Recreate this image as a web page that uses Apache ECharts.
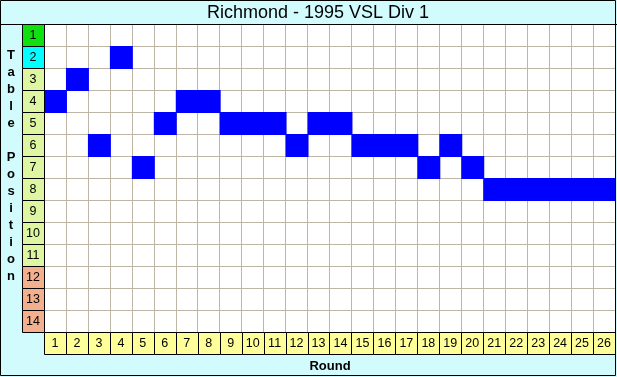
<!DOCTYPE html>
<html><head><meta charset="utf-8">
<script src="https://cdn.jsdelivr.net/npm/echarts@6/dist/echarts.min.js"></script>
<style>html,body{margin:0;padding:0;background:#d2fbfd}#c{width:617px;height:377px}</style>
</head><body><div id="c"></div>
<script>
const titleText = 'Richmond - 1995 VSL Div 1';
const rounds = ['1','2','3','4','5','6','7','8','9','10','11','12','13','14','15','16','17','18','19','20','21','22','23','24','25','26'];
const tablePositions = ['1','2','3','4','5','6','7','8','9','10','11','12','13','14'];
const positionByRound = [4,3,6,2,7,5,4,4,5,5,5,6,5,5,6,6,6,7,6,7,8,8,8,8,8,8];

function zoneColor(p){
  if (p === 1) return '#10e010';
  if (p === 2) return '#00ffff';
  if (p <= 11) return '#def6a2';
  return '#f2b08e';
}

const chart = echarts.init(document.getElementById('c'), null, {renderer:'canvas'});
const PL = 44, PT = 24, PW = 571, PH = 308;

function cellRender(fillFn, withText){
  return function(params, api){
    const x = api.value(0), y = api.value(1);
    const pt = api.coord([x, y]);
    const s = api.size([1, 1]);
    const children = [{
      type:'rect',
      shape:{x: Math.round(pt[0]-s[0]/2)+0.5, y: Math.round(pt[1]-s[1]/2)+0.5, width: Math.round(s[0]), height: Math.round(s[1])},
      style:{fill: fillFn(params.dataIndex), stroke:'#000', lineWidth:1}
    }];
    if (withText) children.push({
      type:'text',
      style:{text: withText(params.dataIndex), x: pt[0], y: pt[1]+1, align:'center', verticalAlign:'middle', font:'12.5px Arial', fill:'#000'}
    });
    return {type:'group', children};
  };
}

chart.setOption({
  animation:false,
  backgroundColor:'#d2fbfd',
  graphic:[
    {type:'rect', shape:{x:0.5,y:0.5,width:615,height:375}, style:{fill:'none', stroke:'#000', lineWidth:1}, z:100},
    {type:'line', shape:{x1:0,y1:24.5,x2:617,y2:24.5}, style:{stroke:'#000', lineWidth:1}, z:100},
    {type:'text', style:{text:titleText, x:318, y:13, align:'center', verticalAlign:'middle', font:'18px Arial', fill:'#000'}},
    {type:'text', style:{text:['T','a','b','l','e',' ','P','o','s','i','t','i','o','n'].join('\n'), x:11, y:166, align:'center', verticalAlign:'middle', font:'bold 13px Arial', lineHeight:17, fill:'#000'}},
    {type:'text', style:{text:'Round', x:330, y:366, align:'center', verticalAlign:'middle', font:'bold 13px Arial', fill:'#000'}}
  ],
  grid:[
    {left:PL, top:PT, width:PW, height:PH, backgroundColor:'#fff', show:true, borderWidth:0},
    {left:22, top:PT, width:22, height:PH},
    {left:PL, top:PT+PH, width:PW, height:22}
  ],
  xAxis:[
    {gridIndex:0, type:'category', data:rounds, axisLine:{show:false}, axisTick:{show:false}, axisLabel:{show:false},
     splitLine:{show:true, interval:0, lineStyle:{color:'#bdb5a6', width:1}}},
    {gridIndex:1, type:'category', data:['p'], show:false},
    {gridIndex:2, type:'category', data:rounds, show:false}
  ],
  yAxis:[
    {gridIndex:0, type:'category', data:tablePositions, inverse:true, axisLine:{show:false}, axisTick:{show:false}, axisLabel:{show:false},
     splitLine:{show:true, interval:0, lineStyle:{color:'#bdb5a6', width:1}}},
    {gridIndex:1, type:'category', data:tablePositions, inverse:true, show:false},
    {gridIndex:2, type:'category', data:['r'], show:false}
  ],
  series:[
    {type:'custom', xAxisIndex:0, yAxisIndex:0, z:5,
     data: positionByRound.map((p,i)=>[i, p-1]),
     renderItem:function(params, api){
       const pt = api.coord([api.value(0), api.value(1)]);
       const s = api.size([1,1]);
       return {type:'rect', shape:{x:pt[0]-s[0]/2, y:pt[1]-s[1]/2, width:s[0]+1, height:s[1]+1}, style:{fill:'#0000ff'}};
     }},
    {type:'custom', xAxisIndex:1, yAxisIndex:1, z:6,
     data: tablePositions.map((t,i)=>[0, i]),
     renderItem: cellRender(i=>zoneColor(i+1), i=>tablePositions[i])},
    {type:'custom', xAxisIndex:2, yAxisIndex:2, z:6,
     data: rounds.map((r,i)=>[i, 0]),
     renderItem: cellRender(()=> '#ffff99', i=>rounds[i])}
  ]
});
</script></body></html>
